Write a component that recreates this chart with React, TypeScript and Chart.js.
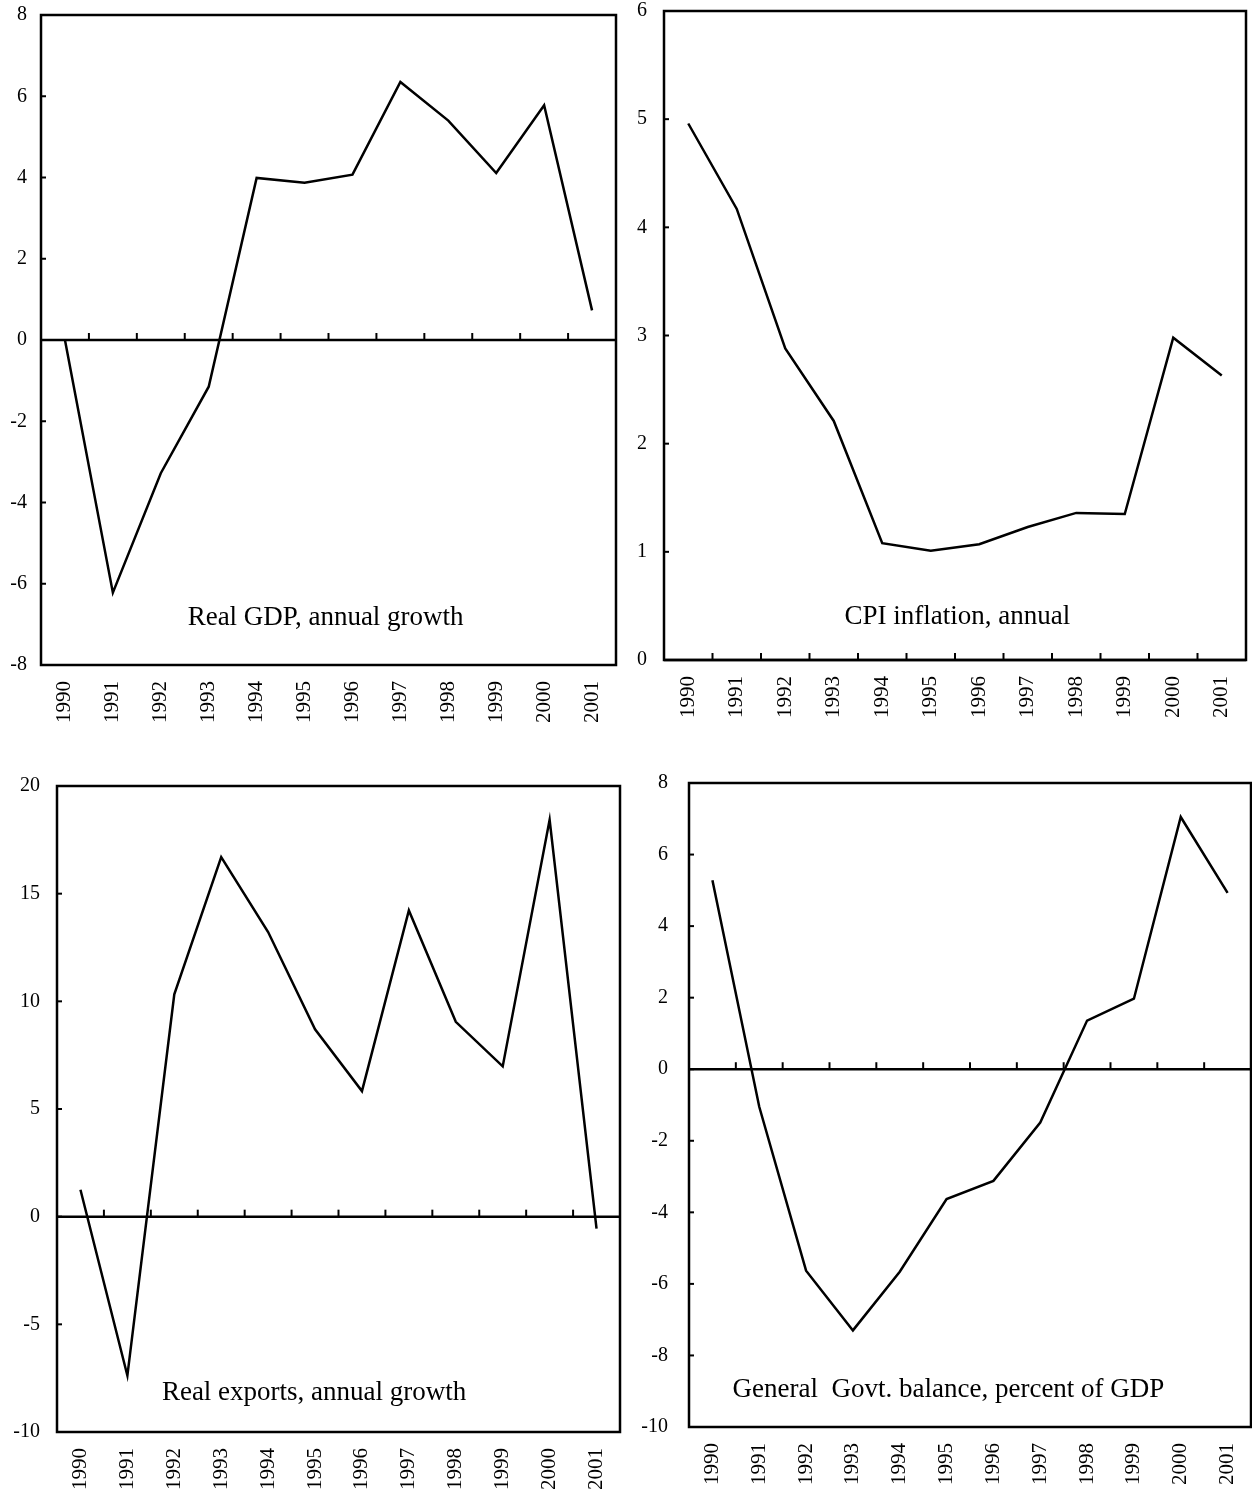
import React, { useEffect, useRef } from "react";
import { Chart, registerables } from "chart.js";

Chart.register(...registerables);

const years = ["1990", "1991", "1992", "1993", "1994", "1995", "1996", "1997", "1998", "1999", "2000", "2001"];

const gdpGrowth = [0, -6.22, -3.28, -1.15, 3.99, 3.87, 4.07, 6.35, 5.4, 4.11, 5.78, 0.73];
const cpiInflation = [4.96, 4.17, 2.88, 2.21, 1.08, 1.01, 1.07, 1.23, 1.36, 1.35, 2.98, 2.63];
const exportsGrowth = [1.25, -7.38, 10.33, 16.7, 13.22, 8.7, 5.83, 14.22, 9.05, 6.98, 18.43, -0.56];
const govtBalance = [5.28, -1.05, -5.63, -7.3, -5.66, -3.63, -3.12, -1.49, 1.36, 1.97, 7.05, 4.93];

const gdpTicks = [-8, -6, -4, -2, 0, 2, 4, 6, 8];
const cpiTicks = [0, 1, 2, 3, 4, 5, 6];
const exportsTicks = [-10, -5, 0, 5, 10, 15, 20];
const govtTicks = [-10, -8, -6, -4, -2, 0, 2, 4, 6, 8];

const gdpCaption = "Real GDP, annual growth";
const cpiCaption = "CPI inflation, annual";
const exportsCaption = "Real exports, annual growth";
const govtCaption = "General  Govt. balance, percent of GDP";

const SERIF = '"Liberation Serif", "Times New Roman", serif';

type PanelCfg = {
  data: number[];
  ticks: number[];
  caption: string;
  capX: number; // in category index units
  capY: number; // in value units
  axisValue: number;
  left: number;
  top: number;
  w: number;
  h: number;
  yWidth: number;
  xHeight: number;
  padTop: number;
  padRight: number;
  yPad: number;
};

const panels: PanelCfg[] = [
  {
    data: gdpGrowth, ticks: gdpTicks, caption: gdpCaption, capX: 5.44, capY: -6.85, axisValue: 0,
    left: 0, top: 0, w: 626, h: 745, yWidth: 41, xHeight: 80, padTop: 15, padRight: 10, yPad: 14,
  },
  {
    data: cpiInflation, ticks: cpiTicks, caption: cpiCaption, capX: 5.55, capY: 0.4, axisValue: 0,
    left: 626, top: 0, w: 626, h: 745, yWidth: 38, xHeight: 85, padTop: 11, padRight: 6, yPad: 17,
  },
  {
    data: exportsGrowth, ticks: exportsTicks, caption: exportsCaption, capX: 4.98, capY: -8.2, axisValue: 0,
    left: 0, top: 745, w: 630, h: 749, yWidth: 57, xHeight: 62, padTop: 41, padRight: 10, yPad: 17,
  },
  {
    data: govtBalance, ticks: govtTicks, caption: govtCaption, capX: 5.04, capY: -8.97, axisValue: 0,
    left: 630, top: 745, w: 622, h: 749, yWidth: 59, xHeight: 67, padTop: 38, padRight: 1, yPad: 21,
  },
];

function framePlugin(cfg: PanelCfg) {
  return {
    id: "frame" + cfg.left + "_" + cfg.top,
    beforeDatasetsDraw(chart: any) {
      const { ctx, chartArea } = chart;
      const xs = chart.scales.x;
      const ys = chart.scales.y;
      ctx.save();
      ctx.strokeStyle = "#000";
      ctx.lineWidth = 2.5;
      ctx.strokeRect(chartArea.left, chartArea.top, chartArea.right - chartArea.left, chartArea.bottom - chartArea.top);
      // axis line
      const y0 = ys.getPixelForValue(cfg.axisValue);
      ctx.beginPath();
      ctx.moveTo(chartArea.left, y0);
      ctx.lineTo(chartArea.right, y0);
      ctx.stroke();
      // category boundary ticks
      ctx.lineWidth = 2;
      for (let i = 1; i < years.length; i++) {
        const x = (xs.getPixelForValue(i - 1) + xs.getPixelForValue(i)) / 2;
        ctx.beginPath();
        ctx.moveTo(x, y0);
        ctx.lineTo(x, y0 - 7);
        ctx.stroke();
      }
      // small y ticks inside
      ctx.lineWidth = 2;
      for (const t of ys.ticks) {
        const y = ys.getPixelForValue(t.value);
        ctx.beginPath();
        ctx.moveTo(chartArea.left, y);
        ctx.lineTo(chartArea.left + 5, y);
        ctx.stroke();
      }
      ctx.restore();
    },
    afterDraw(chart: any) {
      const { ctx } = chart;
      const xs = chart.scales.x;
      const ys = chart.scales.y;
      ctx.save();
      ctx.fillStyle = "#000";
      ctx.font = "27px " + SERIF;
      ctx.textAlign = "center";
      ctx.textBaseline = "middle";
      ctx.fillText(cfg.caption, xs.getPixelForValue(cfg.capX), ys.getPixelForValue(cfg.capY));
      ctx.restore();
    },
  };
}

function Panel({ cfg }: { cfg: PanelCfg }) {
  const ref = useRef<HTMLCanvasElement | null>(null);
  useEffect(() => {
    if (!ref.current) return;
    const chart = new Chart(ref.current, {
      type: "line",
      data: {
        labels: years,
        datasets: [
          {
            data: cfg.data,
            borderColor: "#000",
            borderWidth: 2.5,
            pointRadius: 0,
            tension: 0,
            fill: false,
            borderJoinStyle: "miter",
          },
        ],
      },
      options: {
        responsive: false,
        animation: false,
        devicePixelRatio: 1,
        layout: { padding: { top: cfg.padTop, right: cfg.padRight, left: 0, bottom: 0 } },
        plugins: { legend: { display: false }, tooltip: { enabled: false }, title: { display: false } },
        scales: {
          x: {
            type: "category",
            offset: true,
            grid: { display: false, drawTicks: false },
            border: { display: false },
            ticks: {
              autoSkip: false,
              minRotation: 90,
              maxRotation: 90,
              padding: 16,
              color: "#000",
              font: { family: SERIF, size: 21, lineHeight: 1 },
            },
            afterFit: (s: any) => {
              s.height = cfg.xHeight;
              s.paddingLeft = 0;
              s.paddingRight = 0;
            },
          },
          y: {
            type: "linear",
            min: cfg.ticks[0],
            max: cfg.ticks[cfg.ticks.length - 1],
            grid: { display: false, drawTicks: false },
            border: { display: false },
            afterBuildTicks: (s: any) => {
              s.ticks = cfg.ticks.map((v) => ({ value: v }));
            },
            ticks: {
              padding: cfg.yPad,
              color: "#000",
              font: { family: SERIF, size: 20, lineHeight: 1 },
              callback: (v: any) => String(v),
            },
            afterFit: (s: any) => {
              s.width = cfg.yWidth;
              s.paddingTop = 0;
              s.paddingBottom = 0;
            },
          },
        },
      },
      plugins: [framePlugin(cfg)],
    } as any);
    return () => chart.destroy();
  }, [cfg]);
  return (
    <canvas
      ref={ref}
      width={cfg.w}
      height={cfg.h}
      style={{ position: "absolute", left: cfg.left, top: cfg.top, width: cfg.w, height: cfg.h, display: "block" }}
    />
  );
}

export default function App() {
  return (
    <div style={{ position: "absolute", left: 0, top: 0, width: 1252, height: 1494, background: "#fff", overflow: "hidden" }}>
      {panels.map((p, i) => (
        <Panel key={i} cfg={p} />
      ))}
    </div>
  );
}
